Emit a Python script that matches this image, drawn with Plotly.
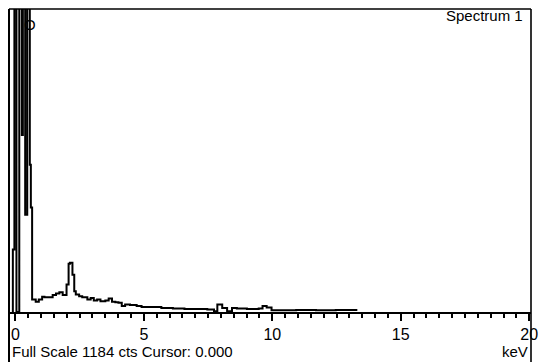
import plotly.graph_objects as go

# Spectrum trace (step histogram): energy (keV) where each step starts, counts
energy_kev = [-0.13, -0.10, -0.04, 0.04, 0.15, 0.25, 0.29, 0.38, 0.46, 0.56, 0.60, 0.65,
              0.67, 0.79, 0.91, 1.04, 1.13, 1.45, 1.58, 1.71, 1.84, 1.99, 2.07, 2.12,
              2.22, 2.29, 2.35, 2.48, 2.60, 2.80, 2.93, 3.05, 3.18, 3.31, 3.50, 3.63,
              3.76, 3.89, 4.01, 4.14, 4.27, 4.46, 4.72, 4.91, 5.68, 6.13, 6.58, 7.47,
              7.73, 7.86, 8.05, 8.24, 8.43, 8.62, 9.01, 9.47, 9.62, 9.78, 9.97, 10.93,
              11.70, 12.47, 13.31]
counts = [0, 244, 3000, 0, 3000, 692, 3000, 380, 3000, 575, 408, 49,
          49, 40, 49, 60, 58, 66, 72, 77, 66, 107, 189, 192,
          146, 81, 68, 62, 58, 49, 55, 45, 49, 42, 45, 53,
          40, 38, 36, 23, 29, 27, 23, 20, 16, 14, 12, 10,
          3, 29, 16, 3, 16, 14, 12, 14, 23, 18, 7, 8,
          7, 8, 8]

full_scale = 1184
x_range = [-0.25, 20.07]
major_step = 5
minor_step = 0.5

FONT = "Liberation Sans, Arial, sans-serif"

fig = go.Figure()
fig.add_trace(go.Scatter(
    x=energy_kev, y=counts, mode="lines",
    line=dict(color="black", width=2, shape="hv"),
    hoverinfo="skip", showlegend=False,
))

fig.update_layout(
    width=541, height=362,
    margin=dict(l=9, r=3, t=9, b=49.5),
    paper_bgcolor="white", plot_bgcolor="white",
    font=dict(family=FONT, size=15, color="black"),
    xaxis=dict(
        range=x_range, showgrid=False, zeroline=False,
        showline=True, linecolor="black", linewidth=1.8,
        tickmode="linear", tick0=0, dtick=major_step,
        ticks="outside", ticklen=7, tickwidth=1.8, tickcolor="black",
        tickfont=dict(family=FONT, size=16, color="black"),
        ticklabeloverflow="allow",
        minor=dict(tick0=0, dtick=minor_step, ticks="outside", ticklen=4,
                   tickwidth=1.6, tickcolor="black", showgrid=False),
    ),
    yaxis=dict(
        range=[0, full_scale], showgrid=False, zeroline=False,
        showline=False, showticklabels=False, ticks="",
    ),
    shapes=[
        dict(type="line", xref="paper", yref="paper", x0=0, x1=0, y0=-0.2, y1=1,
             line=dict(color="black", width=2)),
        dict(type="line", xref="paper", yref="paper", x0=1, x1=1, y0=-0.2, y1=1,
             line=dict(color="black", width=1.6)),
        dict(type="line", xref="paper", yref="paper", x0=0, x1=1, y0=1, y1=1,
             line=dict(color="black", width=1.6)),
    ],
    annotations=[
        dict(text="Spectrum 1", xref="paper", yref="paper", x=0.988, y=0.977,
             xanchor="right", yanchor="middle", showarrow=False,
             font=dict(family=FONT, size=15, color="black")),
        dict(text="Full Scale 1184 cts Cursor: 0.000", xref="paper", yref="paper",
             x=0.002, y=-0.131, xanchor="left", yanchor="middle", showarrow=False,
             font=dict(family=FONT, size=15, color="black")),
        dict(text="keV", xref="paper", yref="paper", x=0.998, y=-0.131,
             xanchor="right", yanchor="middle", showarrow=False,
             font=dict(family=FONT, size=15, color="black")),
        dict(text="O", xref="x", yref="y", x=0.58, y=1125,
             xanchor="center", yanchor="middle", showarrow=False,
             font=dict(family=FONT, size=15, color="black")),
    ],
)

fig.write_html("out.html")
